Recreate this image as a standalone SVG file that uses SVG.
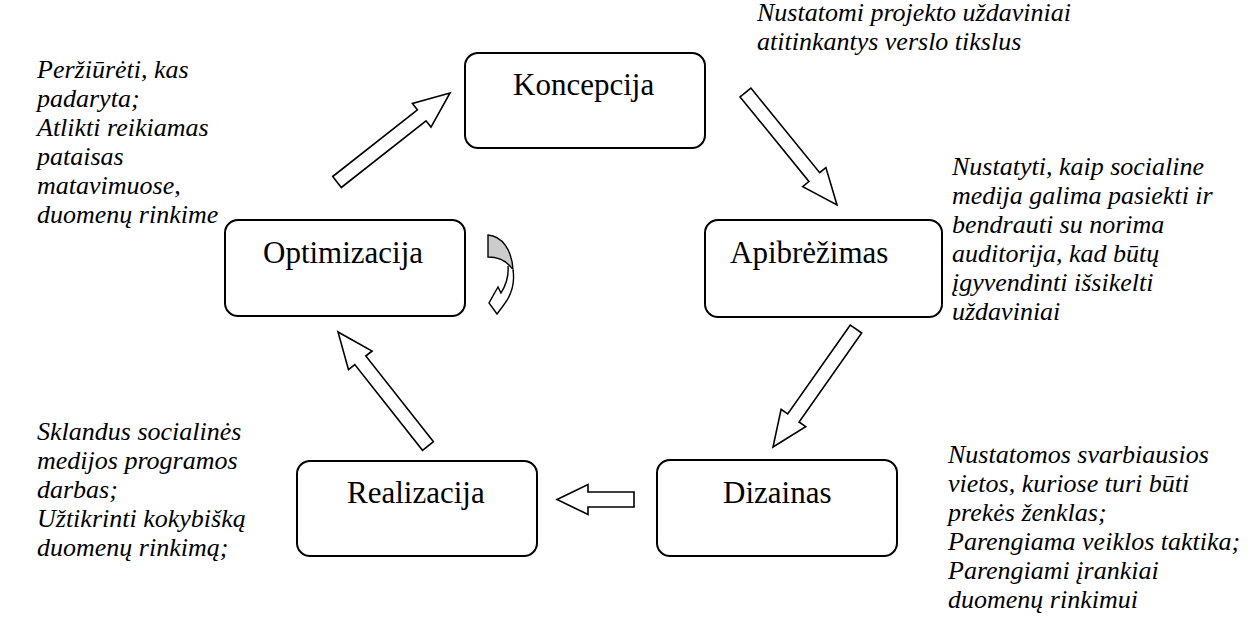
<svg xmlns="http://www.w3.org/2000/svg" width="1258" height="622" viewBox="0 0 1258 622">
  <style>
    .box { fill: #ffffff; stroke: #000000; stroke-width: 2; }
    .arr { fill: #ffffff; stroke: #000000; stroke-width: 1.6; stroke-linejoin: miter; }
  </style>
  <rect width="1258" height="622" fill="#ffffff"/>

  <!-- block arrows between the phases -->
  <g id="connectors">
    <polygon class="arr" points="341.3,187.5 426.0,120.8 431.0,127.1 450,93 412.4,103.5 417.4,109.8 332.7,176.5"/>
    <polygon class="arr" points="740.1,96.9 808.9,181.5 802.7,186.6 837,205 825.9,167.6 819.7,172.7 750.9,88.1"/>
    <polygon class="arr" points="850.3,325.0 787.7,414.0 781.1,409.4 773,447 805.7,426.6 799.1,422.0 861.7,333.0"/>
    <polygon class="arr" points="634,492 588,492 588,484.5 557,499.5 588,514.5 588,507 634,507"/>
    <polygon class="arr" points="433.5,441.7 365.8,356.0 372.1,351.0 338,332 348.5,369.6 354.8,364.6 422.5,450.3"/>
    <!-- curved loop arrow beside Optimizacija -->
    <path d="M488,235 C502,236 512,250 513,270 C508,262 499,257 488,257 Z" fill="#cccccc" stroke="#000000" stroke-width="1.4"/>
    <path d="M513,270 C515,283 511,296 503,306 L497,314 L489,303 L498,287 L501,293 C506,285 509,277 508,266" fill="#ffffff" stroke="#000000" stroke-width="1.4" stroke-linejoin="miter"/>
  </g>

  <!-- phase boxes -->
  <g font-family="Liberation Serif" font-size="31" fill="#000000">
    <g id="koncepcija">
      <rect class="box" x="465" y="53" width="240" height="95" rx="13"/>
      <text x="513" y="95">Koncepcija</text>
    </g>
    <g id="apibrezimas">
      <rect class="box" x="705" y="220" width="237" height="97" rx="13"/>
      <text x="730" y="263">Apibrėžimas</text>
    </g>
    <g id="dizainas">
      <rect class="box" x="657" y="460" width="240" height="96" rx="13"/>
      <text x="723" y="503">Dizainas</text>
    </g>
    <g id="realizacija">
      <rect class="box" x="297" y="461" width="240" height="95" rx="13"/>
      <text x="347" y="503">Realizacija</text>
    </g>
    <g id="optimizacija">
      <rect class="box" x="225" y="220" width="240" height="96" rx="13"/>
      <text x="263" y="263">Optimizacija</text>
    </g>
  </g>

  <!-- side notes -->
  <g font-family="Liberation Serif" font-size="26" font-style="italic" fill="#000000">
    <g id="note-koncepcija">
      <text x="757" y="21">Nustatomi projekto uždaviniai</text>
      <text x="757" y="50">atitinkantys verslo tikslus</text>
    </g>
    <g id="note-apibrezimas">
      <text x="952" y="175">Nustatyti, kaip socialine</text>
      <text x="952" y="204">medija galima pasiekti ir</text>
      <text x="952" y="233">bendrauti su norima</text>
      <text x="952" y="262">auditorija, kad būtų</text>
      <text x="952" y="291">įgyvendinti išsikelti</text>
      <text x="952" y="320">uždaviniai</text>
    </g>
    <g id="note-dizainas">
      <text x="948" y="463">Nustatomos svarbiausios</text>
      <text x="948" y="492">vietos, kuriose turi būti</text>
      <text x="948" y="521">prekės ženklas;</text>
      <text x="948" y="550">Parengiama veiklos taktika;</text>
      <text x="948" y="579">Parengiami įrankiai</text>
      <text x="948" y="608">duomenų rinkimui</text>
    </g>
    <g id="note-realizacija">
      <text x="37" y="440">Sklandus socialinės</text>
      <text x="37" y="469">medijos programos</text>
      <text x="37" y="498">darbas;</text>
      <text x="37" y="527">Užtikrinti kokybišką</text>
      <text x="37" y="556">duomenų rinkimą;</text>
    </g>
    <g id="note-optimizacija">
      <text x="37" y="78">Peržiūrėti, kas</text>
      <text x="37" y="107">padaryta;</text>
      <text x="37" y="136">Atlikti reikiamas</text>
      <text x="37" y="165">pataisas</text>
      <text x="37" y="194">matavimuose,</text>
      <text x="37" y="223">duomenų rinkime</text>
    </g>
  </g>
</svg>
